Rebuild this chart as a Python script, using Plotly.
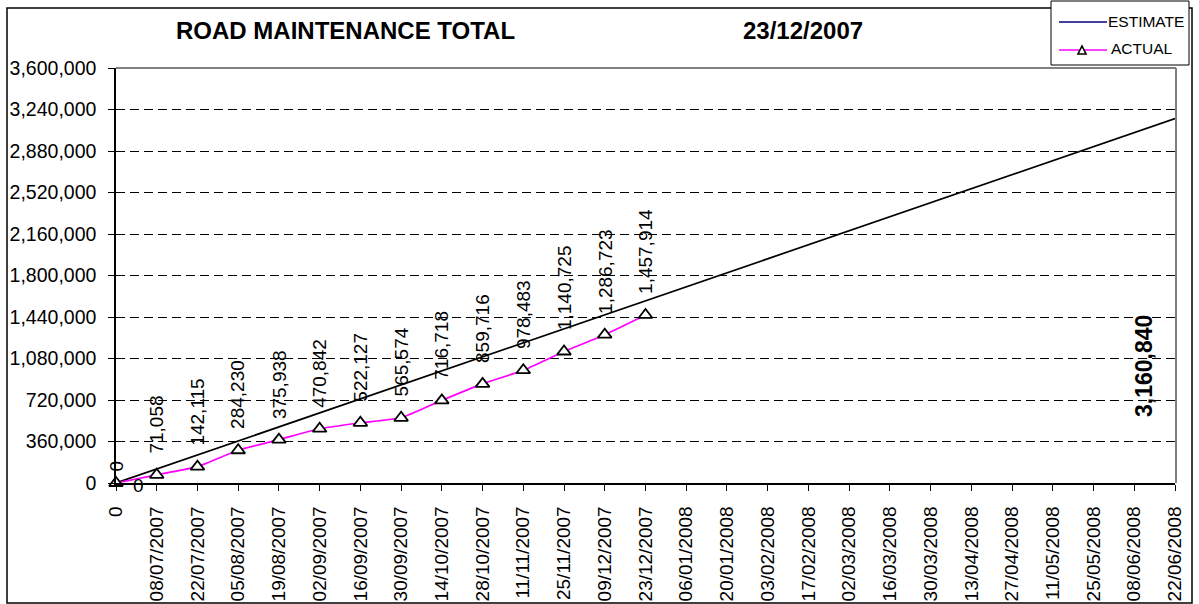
import plotly.graph_objects as go

# ---------------- data ----------------
categories = ["0", "08/07/2007", "22/07/2007", "05/08/2007", "19/08/2007", "02/09/2007",
              "16/09/2007", "30/09/2007", "14/10/2007", "28/10/2007", "11/11/2007",
              "25/11/2007", "09/12/2007", "23/12/2007", "06/01/2008", "20/01/2008",
              "03/02/2008", "17/02/2008", "02/03/2008", "16/03/2008", "30/03/2008",
              "13/04/2008", "27/04/2008", "11/05/2008", "25/05/2008", "08/06/2008",
              "22/06/2008"]
actual_values = [0, 71058, 142115, 284230, 375938, 470842, 522127, 565574, 716718,
                 859716, 978483, 1140725, 1286723, 1457914]
estimate_categories = ["0", "22/06/2008"]
estimate_values = [0, 3160840]
y_ticks = [0, 360000, 720000, 1080000, 1440000, 1800000, 2160000, 2520000,
           2880000, 3240000, 3600000]

title_text = "ROAD MAINTENANCE TOTAL"
date_text = "23/12/2007"

# ---------------- layout helpers ----------------
W, H = 1199, 604
L, R, T, B = 116, 24, 68, 121
PW, PH = W - L - R, H - T - B


def px(xp):
    return (xp - L) / PW


def py(yp):
    return (H - B - yp) / PH


FONT = "Arial, 'Liberation Sans', sans-serif"

fig = go.Figure()

fig.add_trace(go.Scatter(
    x=estimate_categories, y=estimate_values, mode="lines",
    line=dict(color="black", width=1.7), name="ESTIMATE",
    showlegend=False, cliponaxis=False, hoverinfo="skip"))

fig.add_trace(go.Scatter(
    x=categories[:len(actual_values)], y=actual_values, mode="lines+markers",
    line=dict(color="#FF00FF", width=1.7, shape="spline", smoothing=0.5),
    marker=dict(symbol="triangle-up", size=12, color="white",
                line=dict(color="black", width=1.8)),
    name="ACTUAL", showlegend=False, cliponaxis=False))

annotations = []
# data labels for actual
for c, v in zip(categories[1:len(actual_values)], actual_values[1:]):
    annotations.append(dict(
        x=c, y=v, xref="x", yref="y", text=f"{v:,}", showarrow=False,
        textangle=-90, xanchor="center", yanchor="bottom", yshift=19,
        font=dict(family=FONT, size=19, color="black")))
# zero labels at the origin
annotations.append(dict(
    x=categories[0], y=actual_values[0], xref="x", yref="y", text="0", showarrow=False,
    textangle=-90, xanchor="center", yanchor="bottom", yshift=9,
    font=dict(family=FONT, size=19, color="black")))
annotations.append(dict(
    x=estimate_categories[0], y=estimate_values[0], xref="x", yref="y", text="0",
    showarrow=False, xanchor="center", yanchor="middle", xshift=22, yshift=-2,
    font=dict(family=FONT, size=19, color="black")))
# estimate end label
annotations.append(dict(
    x=estimate_categories[-1], y=py(366), xref="x", yref="paper",
    text=f"<b>{estimate_values[-1]:,}</b>", showarrow=False, textangle=-90,
    xanchor="center", yanchor="middle", xshift=-31,
    font=dict(family=FONT, size=23, color="black")))
# titles
annotations.append(dict(
    x=px(345), y=py(30), xref="paper", yref="paper", text=f"<b>{title_text}</b>",
    showarrow=False, xanchor="center", yanchor="middle",
    font=dict(family=FONT, size=24, color="black")))
annotations.append(dict(
    x=px(803), y=py(30), xref="paper", yref="paper", text=f"<b>{date_text}</b>",
    showarrow=False, xanchor="center", yanchor="middle",
    font=dict(family=FONT, size=24, color="black")))
# manual legend texts
annotations.append(dict(
    x=px(1106), y=py(22), xref="paper", yref="paper", text="ESTIMATE",
    showarrow=False, xanchor="left", yanchor="middle",
    font=dict(family=FONT, size=15.5, color="black")))
annotations.append(dict(
    x=px(1109), y=py(49), xref="paper", yref="paper", text="ACTUAL",
    showarrow=False, xanchor="left", yanchor="middle",
    font=dict(family=FONT, size=15.5, color="black")))

shapes = [
    # outer chart border
    dict(type="rect", xref="paper", yref="paper", x0=px(7), x1=px(1192), y0=py(603), y1=py(8),
         line=dict(color="black", width=1.5), layer="below"),
    # plot area border (top & right, grey)
    dict(type="line", xref="paper", yref="paper", x0=0, x1=px(1176), y0=1, y1=1,
         line=dict(color="#808080", width=2), layer="above"),
    dict(type="line", xref="paper", yref="paper", x0=px(1176), x1=px(1176), y0=0, y1=1,
         line=dict(color="#808080", width=2), layer="above"),
    # legend box
    dict(type="rect", xref="paper", yref="paper", x0=px(1051), x1=px(1189), y0=py(65), y1=py(1),
         line=dict(color="black", width=1), fillcolor="white", layer="above"),
    dict(type="line", xref="paper", yref="paper", x0=px(1059), x1=px(1107), y0=py(22), y1=py(22),
         line=dict(color="#000080", width=1.5), layer="above"),
    dict(type="line", xref="paper", yref="paper", x0=px(1059), x1=px(1107), y0=py(50), y1=py(50),
         line=dict(color="#FF00FF", width=1.5), layer="above"),
    dict(type="path", xref="paper", yref="paper",
         path=f"M {px(1078)} {py(54)} L {px(1086)} {py(54)} L {px(1082)} {py(46)} Z",
         line=dict(color="black", width=1.6), fillcolor="white", layer="above"),
]

fig.update_layout(
    width=W, height=H,
    margin=dict(l=L, r=R, t=T, b=B, pad=0, autoexpand=False),
    paper_bgcolor="white", plot_bgcolor="white",
    font=dict(family=FONT, color="black"),
    showlegend=False,
    annotations=annotations,
    shapes=shapes,
    xaxis=dict(
        type="category", categoryorder="array", categoryarray=categories,
        range=[0, len(categories) - 1], tickangle=-90, ticks="outside", ticklen=6,
        tickcolor="black", showline=True, linecolor="black", linewidth=1.5,
        showgrid=False, zeroline=False, tickfont=dict(family=FONT, size=19, color="black"),
        ticklabelstandoff=8, automargin=False),
    yaxis=dict(
        range=[0, 3600000], tickvals=y_ticks, tickformat=",d", ticks="outside",
        ticklen=6, tickcolor="black", showline=True, linecolor="black", linewidth=1.5,
        showgrid=True, gridcolor="black", gridwidth=1, griddash="9px,5px",
        zeroline=False, tickfont=dict(family=FONT, size=19.5, color="black"),
        ticklabelstandoff=8, automargin=False),
)

fig.write_html("out.html", config={"displayModeBar": False},
               post_script="document.body.style.margin='0';document.body.style.overflow='hidden';")
